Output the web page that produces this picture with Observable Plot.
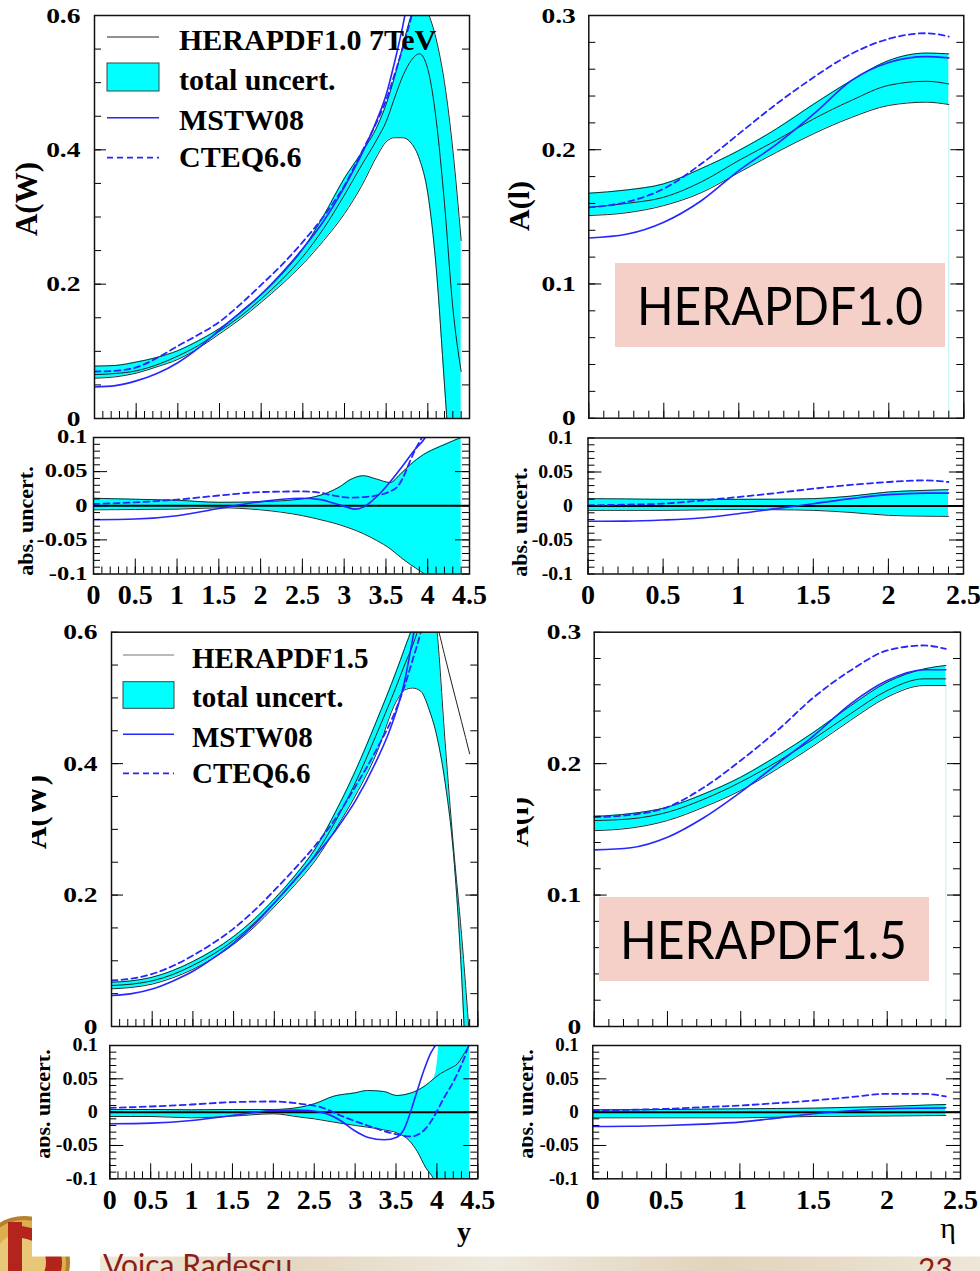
<!DOCTYPE html>
<html>
<head>
<meta charset="utf-8">
<script src="https://cdn.jsdelivr.net/npm/d3@7"></script>
<script src="https://cdn.jsdelivr.net/npm/@observablehq/plot@0.6"></script>
<style>
  html, body { margin: 0; padding: 0; background: #fff; }
  #page { position: relative; width: 980px; height: 1271px; overflow: hidden; background: #fff; }
  #page svg { position: absolute; }
</style>
</head>
<body>
<div id="page"></div>
<script>
// ---------- W asymmetry A(W) vs boson rapidity y : HERAPDF1.0 ----------
const w10_y    = [0, 0.25, 0.5, 0.75, 1, 1.25, 1.5, 1.75, 2, 2.25, 2.5, 2.75, 3, 3.2, 3.4, 3.5, 3.6, 3.7, 3.8, 3.9, 4.0, 4.1, 4.2, 4.3, 4.4];
const w10_hi   = [0.078, 0.079, 0.084, 0.091, 0.101, 0.116, 0.134, 0.157, 0.184, 0.215, 0.252, 0.302, 0.358, 0.395, 0.437, 0.468, 0.508, 0.555, 0.600, 0.630, 0.605, 0.565, 0.500, 0.400, 0.265];
const w10_mid  = [0.0655, 0.067, 0.071, 0.080, 0.093, 0.109, 0.130, 0.152, 0.178, 0.207, 0.241, 0.283, 0.333, 0.376, 0.418, 0.442, 0.477, 0.510, 0.533, 0.543, 0.520, 0.445, 0.320, 0.165, 0.070];
const w10_lo   = [0.060, 0.062, 0.0675, 0.077, 0.088, 0.105, 0.126, 0.148, 0.173, 0.200, 0.230, 0.265, 0.305, 0.345, 0.393, 0.412, 0.418, 0.418, 0.410, 0.386, 0.335, 0.225, 0.050, -0.130, -0.330];
const w10_mstw_y = [0, 0.25, 0.5, 0.75, 1, 1.25, 1.5, 1.75, 2, 2.25, 2.5, 2.75, 3, 3.2, 3.4, 3.5, 3.6, 3.7, 3.8];
const w10_mstw   = [0.047, 0.049, 0.056, 0.067, 0.083, 0.105, 0.132, 0.158, 0.185, 0.217, 0.253, 0.294, 0.345, 0.392, 0.448, 0.482, 0.530, 0.585, 0.650];
const w10_cteq_y = [0, 0.25, 0.5, 0.75, 1, 1.25, 1.5, 1.75, 2, 2.25, 2.5, 2.75, 3, 3.2, 3.4, 3.5, 3.6, 3.7, 3.8, 3.9];
const w10_cteq   = [0.070, 0.071, 0.076, 0.090, 0.108, 0.125, 0.144, 0.170, 0.199, 0.229, 0.263, 0.301, 0.347, 0.395, 0.445, 0.474, 0.512, 0.552, 0.597, 0.645];

// differences to the HERAPDF1.0 central value
const dw10_y   = [0, 0.5, 1, 1.5, 2, 2.5, 2.8, 2.95, 3.07, 3.23, 3.39, 3.55, 3.67, 3.79, 3.95, 4.15, 4.3, 4.4];
const dw10_hi  = [0.011, 0.0095, 0.008, 0.005, 0.006, 0.010, 0.019, 0.028, 0.038, 0.044, 0.039, 0.034, 0.046, 0.060, 0.075, 0.087, 0.095, 0.100];
const dw10_lo  = [-0.006, -0.0055, -0.005, -0.003, -0.006, -0.0145, -0.023, -0.028, -0.033, -0.041, -0.051, -0.063, -0.075, -0.086, -0.099, -0.120, -0.135, -0.150];
const dw10_mstw_y = [0, 0.5, 1, 1.5, 2, 2.48, 2.72, 2.87, 3.03, 3.13, 3.23, 3.35, 3.47, 3.59, 3.71, 3.83, 3.97, 4.05];
const dw10_mstw   = [-0.0205, -0.0195, -0.0146, -0.004, 0.006, 0.011, 0.009, 0.004, -0.002, -0.005, -0.002, 0.009, 0.0235, 0.041, 0.060, 0.080, 0.100, 0.120];
const dw10_cteq_y = [0, 0.5, 1, 1.5, 2, 2.48, 2.72, 2.87, 3.07, 3.27, 3.43, 3.55, 3.63, 3.7, 3.77, 3.85, 3.93, 4.0];
const dw10_cteq   = [0.0025, 0.005, 0.009, 0.015, 0.020, 0.021, 0.019, 0.015, 0.012, 0.013, 0.016, 0.021, 0.027, 0.040, 0.060, 0.082, 0.100, 0.118];

// ---------- lepton asymmetry A(l) vs pseudorapidity eta : HERAPDF1.0 ----------
const eta       = [0, 0.25, 0.5, 0.75, 1, 1.25, 1.5, 1.75, 2, 2.25, 2.4];
const l10_hi    = [0.1676, 0.170, 0.1746, 0.186, 0.1994, 0.2155, 0.234, 0.2515, 0.2665, 0.272, 0.2714];
const l10_mid   = [0.157, 0.160, 0.1646, 0.176, 0.192, 0.207, 0.223, 0.2367, 0.248, 0.251, 0.249];
const l10_lo    = [0.151, 0.153, 0.1584, 0.168, 0.183, 0.198, 0.212, 0.224, 0.233, 0.2354, 0.2337];
const l10_mstw  = [0.1343, 0.137, 0.146, 0.162, 0.1845, 0.204, 0.2267, 0.2515, 0.265, 0.2694, 0.2684];
const l10_cteq  = [0.157, 0.161, 0.171, 0.1895, 0.2118, 0.234, 0.254, 0.2714, 0.2826, 0.2868, 0.2843];
const dl10_hi   = [0.0108, 0.0104, 0.0098, 0.0098, 0.0098, 0.0100, 0.0108, 0.0145, 0.0206, 0.0230, 0.0240];
const dl10_lo   = [-0.0064, -0.0064, -0.0064, -0.0057, -0.0050, -0.0055, -0.0064, -0.0095, -0.0137, -0.0150, -0.0152];
const dl10_mstw = [-0.0225, -0.0222, -0.0206, -0.0176, -0.0113, -0.0039, 0.0034, 0.0108, 0.0167, 0.0190, 0.0190];
const dl10_cteq = [0.0010, 0.0020, 0.0034, 0.0080, 0.0132, 0.0190, 0.0255, 0.0310, 0.0353, 0.0377, 0.0353];

// ---------- A(W) : HERAPDF1.5 ----------
const w15_y    = [0, 0.25, 0.5, 0.75, 1, 1.25, 1.5, 1.75, 2, 2.25, 2.5, 2.75, 3, 3.25, 3.5, 3.6, 3.7, 3.8, 3.9, 4.0, 4.1, 4.2, 4.3, 4.4];
const w15_hi   = [0.0674, 0.0695, 0.075, 0.085, 0.099, 0.116, 0.137, 0.163, 0.194, 0.229, 0.270, 0.326, 0.390, 0.463, 0.541, 0.575, 0.610, 0.660, 0.680, 0.600, 0.430, 0.275, 0.140, -0.020];
const w15_mid  = [0.0624, 0.0645, 0.0695, 0.079, 0.093, 0.110, 0.131, 0.157, 0.188, 0.222, 0.261, 0.312, 0.372, 0.443, 0.518, 0.550, 0.580, 0.615, 0.640, 0.610, 0.561, 0.512, 0.464, 0.415];
const w15_lo   = [0.0573, 0.0595, 0.0645, 0.074, 0.087, 0.104, 0.125, 0.151, 0.182, 0.215, 0.252, 0.300, 0.352, 0.414, 0.495, 0.512, 0.515, 0.510, 0.483, 0.440, 0.370, 0.265, 0.080, -0.200];
const w15_mstw_y = [0, 0.25, 0.5, 0.75, 1, 1.25, 1.5, 1.75, 2, 2.25, 2.5, 2.75, 3, 3.25, 3.4, 3.5, 3.6, 3.7, 3.8];
const w15_mstw   = [0.0472, 0.050, 0.057, 0.069, 0.084, 0.104, 0.127, 0.155, 0.188, 0.223, 0.259, 0.298, 0.344, 0.403, 0.445, 0.480, 0.525, 0.590, 0.660];
const w15_cteq_y = [0, 0.25, 0.5, 0.75, 1, 1.25, 1.5, 1.75, 2, 2.25, 2.5, 2.75, 3, 3.25, 3.5, 3.6, 3.7, 3.8, 3.9];
const w15_cteq   = [0.070, 0.073, 0.080, 0.092, 0.108, 0.127, 0.149, 0.176, 0.207, 0.240, 0.275, 0.316, 0.366, 0.420, 0.484, 0.518, 0.558, 0.600, 0.650];

const dw15_y   = [0, 0.5, 1, 1.5, 2, 2.33, 2.5, 2.74, 3.0, 3.15, 3.35, 3.51, 3.66, 3.76, 3.86, 3.96, 4.0, 4.03, 4.1, 4.4];
const dw15_hi  = [0.004, 0.004, 0.0035, 0.004, 0.004, 0.0075, 0.0125, 0.024, 0.029, 0.0325, 0.031, 0.025, 0.028, 0.0325, 0.040, 0.050, 0.070, 0.110, 0.200, 0.300];
const dw15_lo  = [-0.0065, -0.0065, -0.0085, -0.006, -0.0025, -0.0075, -0.010, -0.015, -0.020, -0.0225, -0.0265, -0.031, -0.0425, -0.059, -0.0825, -0.100, -0.110, -0.120, -0.140, -0.200];
const dw15_edge_y = [0, 0.5, 1, 1.5, 2, 2.33, 2.5, 2.74, 3.0, 3.15, 3.35, 3.51, 3.66, 3.76, 3.86, 3.96, 4.04, 4.15, 4.25, 4.37, 4.4];
const dw15_edge   = [0.004, 0.004, 0.0035, 0.004, 0.004, 0.0075, 0.0125, 0.024, 0.029, 0.0325, 0.031, 0.025, 0.028, 0.0325, 0.040, 0.050, 0.0575, 0.065, 0.0725, 0.095, 0.100];
const dw15_mstw_y = [0, 0.5, 1, 1.5, 2, 2.3, 2.58, 2.82, 2.99, 3.15, 3.36, 3.51, 3.59, 3.67, 3.76, 3.84, 3.92, 3.98, 4.03];
const dw15_mstw   = [-0.0175, -0.0165, -0.0125, -0.005, 0.0025, 0.003, 0, -0.0125, -0.0275, -0.0375, -0.0415, -0.0375, -0.0275, -0.0025, 0.0325, 0.0625, 0.0875, 0.100, 0.110];
const dw15_cteq_y = [0, 0.5, 1, 1.5, 2, 2.33, 2.58, 2.82, 3.15, 3.48, 3.68, 3.84, 3.96, 4.08, 4.21, 4.33, 4.39, 4.43];
const dw15_cteq   = [0.0065, 0.0085, 0.0115, 0.015, 0.016, 0.0125, 0.0075, -0.005, -0.020, -0.0325, -0.0365, -0.0275, -0.0075, 0.020, 0.0475, 0.080, 0.100, 0.110];

// ---------- A(l) : HERAPDF1.5 ----------
const l15_hi    = [0.1598, 0.162, 0.1669, 0.177, 0.1897, 0.206, 0.224, 0.244, 0.262, 0.272, 0.2747];
const l15_mid   = [0.1567, 0.158, 0.163, 0.173, 0.186, 0.2015, 0.219, 0.238, 0.2556, 0.2645, 0.2645];
const l15_lo    = [0.149, 0.151, 0.1567, 0.167, 0.1796, 0.196, 0.2138, 0.233, 0.2506, 0.2594, 0.2594];
const l15_mstw  = [0.1344, 0.136, 0.144, 0.159, 0.1783, 0.1998, 0.2214, 0.2455, 0.2632, 0.2714, 0.2714];
const l15_cteq  = [0.1593, 0.161, 0.1669, 0.182, 0.2024, 0.2252, 0.2506, 0.2709, 0.2861, 0.2899, 0.2873];
const dl15_hi   = [0.0035, 0.0037, 0.0040, 0.0045, 0.0050, 0.0055, 0.0060, 0.0072, 0.0085, 0.0105, 0.0115];
const dl15_lo   = [-0.0085, -0.0085, -0.0085, -0.0085, -0.0085, -0.0075, -0.0065, -0.0062, -0.0058, -0.0053, -0.0050];
const dl15_mstw = [-0.0215, -0.0212, -0.0200, -0.0180, -0.0150, -0.0090, -0.0025, 0.0020, 0.0050, 0.0060, 0.0065];
const dl15_cteq = [0.0025, 0.0035, 0.0050, 0.0075, 0.0100, 0.0135, 0.0175, 0.0225, 0.0275, 0.0275, 0.0235];

// ---------- tick labels and legend text ----------
const wTickLabels   = [0, 0.2, 0.4, 0.6];
const lTickLabels   = [0, 0.1, 0.2, 0.3];
const dTickLabels   = [-0.1, -0.05, 0, 0.05, 0.1];
const yTickLabels   = [0, 0.5, 1, 1.5, 2, 2.5, 3, 3.5, 4, 4.5];
const etaTickLabels = [0, 0.5, 1, 1.5, 2, 2.5];
const legend10 = ["HERAPDF1.0 7TeV", "total uncert.", "MSTW08", "CTEQ6.6"];
const legend15 = ["HERAPDF1.5", "total uncert.", "MSTW08", "CTEQ6.6"];

// ---------- styling ----------
const SERIF = "'Liberation Serif', 'Times New Roman', 'DejaVu Serif', serif";
const SANS = "Lato, 'Noto Sans', 'Open Sans', sans-serif";
const CYAN = "#00ffff";
const EDGE = "#1e2e2e";
const BLUE = "#2626ff";
const CURVE = "monotone-x";

const table = (xs, cols) => xs.map((x, i) => {
  const r = {x};
  for (const k in cols) r[k] = cols[k][i];
  return r;
});
const range = (a, b, s) => d3.range(Math.round((b - a) / s) + 1).map(i => +(a + i * s).toFixed(4));

const page = document.getElementById("page");

// ---------- page background: footer band, crest, axis titles ----------
const foot = d3.select(page).append("svg")
  .attr("width", 980).attr("height", 1271)
  .style("left", "0px").style("top", "0px");
const defs = foot.append("defs");
const grad = defs.append("linearGradient").attr("id", "band");
[["0%", "#efe7d8"], ["20%", "#e4d6c0"], ["45%", "#efe9de"], ["70%", "#e2d3bc"], ["100%", "#eee6d7"]]
  .forEach(([o, c]) => grad.append("stop").attr("offset", o).attr("stop-color", c));
foot.append("rect").attr("x", 100).attr("y", 1256).attr("width", 880).attr("height", 15).attr("fill", "url(#band)");
foot.append("circle").attr("cx", 24).attr("cy", 1262).attr("r", 44).attr("fill", "#dcae4e").attr("stroke", "#b8802c").attr("stroke-width", 4);
foot.append("circle").attr("cx", 24).attr("cy", 1262).attr("r", 30).attr("fill", "#e9c779");
foot.append("path").attr("d", "M8,1222 h14 v52 h-14 z").attr("fill", "#b2241c");
foot.append("path").attr("d", "M22,1226 q40,6 40,36 q0,30 -40,36 v-12 q24,-4 24,-24 q0,-20 -24,-24 z").attr("fill", "#b2241c");
foot.append("rect").attr("x", 32).attr("y", 1185).attr("width", 948).attr("height", 71.5).attr("fill", "#fff");
foot.append("text").attr("x", 103).attr("y", 1276).attr("font-family", SANS).attr("font-size", 30)
  .attr("fill", "#8e1d16").text("Voica Radescu");
foot.append("text").attr("x", 918).attr("y", 1280).attr("font-family", SANS).attr("font-size", 30)
  .attr("fill", "#8e1d16").text("23");
foot.append("text").attr("x", 464).attr("y", 1241).attr("text-anchor", "middle").attr("font-family", SERIF)
  .attr("font-weight", "bold").attr("font-size", 28).text("y");
foot.append("text").attr("x", 948).attr("y", 1238).attr("text-anchor", "middle").attr("font-family", SERIF)
  .attr("font-size", 30).text("η");

// ---------- one framed panel ----------
function panel(o) {
  const m = o.margin;
  const innerW = o.width - m.left - m.right;
  const innerH = o.height - m.top - m.bottom;
  const band = table(o.band.x, {lo: o.band.lo, hi: o.band.hi});
  const hiEdge = o.edge ? table(o.edge.x, {v: o.edge.v}) : band.map(d => ({x: d.x, v: d.hi}));
  const line = {x: "x", y: "v", curve: CURVE, clip: true};
  const marks = [
    Plot.areaY(band, {x: "x", y1: "lo", y2: "hi", fill: CYAN, curve: CURVE, clip: true})
  ];
  if (o.bandFoot) {
    marks.push(Plot.ruleX([band[band.length - 1]], {x: "x", y1: () => o.yDomain[0], y2: "lo", stroke: "#b4f5f5", strokeWidth: 1}));
  }
  marks.push(
    Plot.lineY(band, {x: "x", y: "lo", stroke: EDGE, strokeWidth: 1, curve: CURVE, clip: true}),
    Plot.lineY(hiEdge, {...line, stroke: EDGE, strokeWidth: 1})
  );
  if (o.mid) marks.push(Plot.lineY(table(o.band.x, {v: o.mid}), {...line, stroke: "#222", strokeWidth: 1}));
  if (o.ratio) marks.push(Plot.ruleY([0], {stroke: "#000", strokeWidth: 2}));
  marks.push(
    Plot.lineY(table(o.mstw.x, {v: o.mstw.v}), {...line, stroke: BLUE, strokeWidth: 1.6}),
    Plot.lineY(table(o.cteq.x, {v: o.cteq.v}), {...line, stroke: BLUE, strokeWidth: 1.8, strokeDasharray: "6,4"})
  );
  // inward ticks: bottom edge, left and right edges
  const tk = {stroke: "#000", strokeWidth: 1};
  marks.push(
    Plot.tickX(o.xMinor, {x: d => d, insetTop: innerH - 7, ...tk}),
    Plot.tickX(o.xMajor, {x: d => d, insetTop: innerH - 15, ...tk}),
    Plot.tickY(o.yMinor, {y: d => d, insetRight: innerW - 7, ...tk}),
    Plot.tickY(o.yMinor, {y: d => d, insetLeft: innerW - 7, ...tk}),
    Plot.tickY(o.yMajor, {y: d => d, insetRight: innerW - o.majorLen, ...tk}),
    Plot.tickY(o.yMajor, {y: d => d, insetLeft: innerW - o.majorLen, ...tk}),
    Plot.frame({stroke: "#111", strokeWidth: 1.5}),
    Plot.axisY({ticks: o.yLabels, tickSize: 0, tickPadding: o.yPad, tickFormat: d => String(d), label: null,
      fontSize: o.yFont, fontWeight: "bold", fontFamily: SERIF})
  );
  if (o.xLabels) {
    marks.push(Plot.axisX({ticks: o.xLabels, tickSize: 0, tickPadding: 10, tickFormat: d => String(d), label: null,
      fontSize: 28, fontWeight: "bold", fontFamily: SERIF}));
  }
  const svg = Plot.plot({
    width: o.width, height: o.height,
    marginTop: m.top, marginRight: m.right, marginBottom: m.bottom, marginLeft: m.left,
    x: {domain: o.xDomain, axis: null},
    y: {domain: o.yDomain, axis: null},
    style: {background: "transparent", color: "#000", fontFamily: SERIF},
    marks
  });
  Object.assign(svg.style, {position: "absolute", left: o.left + "px", top: o.top + "px", maxWidth: "none", overflow: "hidden"});
  // wide ROOT-style digits on the vertical axis
  d3.select(svg).selectAll('[aria-label="y-axis tick label"] text').attr("transform", function () {
    return (this.getAttribute("transform") || "") + ` scale(${o.yStretch},1)`;
  });
  // decorations are written in page coordinates
  const g = d3.select(svg).append("g")
    .attr("transform", `translate(${-o.left},${-o.top})`)
    .attr("text-anchor", "start");
  if (o.title) {
    g.append("text").attr("transform", `translate(${o.title.x},${o.title.y}) rotate(-90)`)
      .attr("text-anchor", "middle").attr("font-family", SERIF).attr("font-weight", "bold")
      .attr("font-size", o.title.size).text(o.title.text);
  }
  if (o.decorate) o.decorate(g);
  page.appendChild(svg);
  return svg;
}

function drawLegend(g, L) {
  const [xa, xb] = L.swatch;
  g.append("line").attr("x1", xa).attr("x2", xb).attr("y1", L.rows[0]).attr("y2", L.rows[0])
    .attr("stroke", L.centralColor).attr("stroke-width", 1);
  g.append("rect").attr("x", xa).attr("y", L.box[0]).attr("width", xb - xa).attr("height", L.box[1] - L.box[0])
    .attr("fill", CYAN).attr("stroke", "#2e4a4a").attr("stroke-width", 1);
  g.append("line").attr("x1", xa).attr("x2", xb).attr("y1", L.rows[2]).attr("y2", L.rows[2])
    .attr("stroke", BLUE).attr("stroke-width", 1.6);
  g.append("line").attr("x1", xa).attr("x2", xb).attr("y1", L.rows[3]).attr("y2", L.rows[3])
    .attr("stroke", BLUE).attr("stroke-width", 1.8).attr("stroke-dasharray", "6,4");
  L.labels.forEach((t, i) => g.append("text").attr("x", L.tx).attr("y", L.base[i])
    .attr("text-anchor", "start").attr("font-family", SERIF).attr("font-weight", "bold")
    .attr("font-size", L.size).text(t));
}

function tag(g, box, text, tx, ty, len) {
  g.append("rect").attr("x", box[0]).attr("y", box[1]).attr("width", box[2] - box[0]).attr("height", box[3] - box[1])
    .attr("fill", "#f4d0c8");
  g.append("text").attr("x", tx).attr("y", ty).attr("text-anchor", "start")
    .attr("font-family", SANS).attr("font-size", 52)
    .attr("textLength", len).attr("lengthAdjust", "spacingAndGlyphs").attr("fill", "#000").text(text);
}

const yMinorW = range(0, 0.6, 0.05), yMajorW = [0.2, 0.4];
const yMinorL = range(0, 0.3, 0.02), yMajorL = [0.1, 0.2];
const yMinorD = range(-0.1, 0.1, 0.01), yMajorD = [-0.05, 0, 0.05];
const xMinorY = range(0, 4.5, 0.1), xMajorY = range(0, 4.5, 0.5);
const xMinorE = range(0, 2.5, 0.1), xMajorE = range(0, 2.5, 0.5);

// top-left: A(W), HERAPDF1.0
panel({
  left: 0, top: 0, width: 480, height: 432,
  margin: {top: 15, right: 11, bottom: 14, left: 94},
  xDomain: [0, 4.5], yDomain: [0, 0.6],
  band: {x: w10_y, lo: w10_lo, hi: w10_hi}, mid: w10_mid,
  mstw: {x: w10_mstw_y, v: w10_mstw}, cteq: {x: w10_cteq_y, v: w10_cteq},
  xMinor: xMinorY, xMajor: xMajorY, yMinor: yMinorW, yMajor: yMajorW, majorLen: 12,
  yLabels: wTickLabels, yPad: 14, yFont: 22, yStretch: 1.25,
  title: {text: "A(W)", x: 37, y: 199, size: 31},
  decorate: g => drawLegend(g, {swatch: [107, 159], rows: [37, 0, 117.7, 157.7], box: [63, 91],
    centralColor: "#222", tx: 179, base: [50, 90, 130, 167], size: 30, labels: legend10})
});

// top-left lower: difference A(W)
panel({
  left: 0, top: 425, width: 492, height: 190,
  margin: {top: 12, right: 23, bottom: 41.5, left: 93},
  xDomain: [0, 4.5], yDomain: [-0.1, 0.1], ratio: true,
  band: {x: dw10_y, lo: dw10_lo, hi: dw10_hi},
  mstw: {x: dw10_mstw_y, v: dw10_mstw}, cteq: {x: dw10_cteq_y, v: dw10_cteq},
  xMinor: xMinorY, xMajor: xMajorY, yMinor: yMinorD, yMajor: yMajorD, majorLen: 14,
  yLabels: dTickLabels, yPad: 6, yFont: 18, yStretch: 1.36, xLabels: yTickLabels,
  title: {text: "abs. uncert.", x: 33, y: 521, size: 22}
});

// top-right: A(l), HERAPDF1.0
panel({
  left: 490, top: 0, width: 490, height: 432,
  margin: {top: 15, right: 16.7, bottom: 14.3, left: 98.3},
  xDomain: [0, 2.5], yDomain: [0, 0.3], bandFoot: true,
  band: {x: eta, lo: l10_lo, hi: l10_hi}, mid: l10_mid,
  mstw: {x: eta, v: l10_mstw}, cteq: {x: eta, v: l10_cteq},
  xMinor: xMinorE, xMajor: xMajorE, yMinor: yMinorL, yMajor: yMajorL, majorLen: 13,
  yLabels: lTickLabels, yPad: 13, yFont: 22, yStretch: 1.25,
  title: {text: "A(l)", x: 529, y: 206, size: 30},
  decorate: g => tag(g, [615, 263, 945, 347], "HERAPDF1.0", 637, 325, 286)
});

// top-right lower: difference A(l)
panel({
  left: 490, top: 425, width: 490, height: 190,
  margin: {top: 12.5, right: 17, bottom: 41.5, left: 97.5},
  xDomain: [0, 2.5], yDomain: [-0.1, 0.1], ratio: true,
  band: {x: eta, lo: dl10_lo, hi: dl10_hi},
  mstw: {x: eta, v: dl10_mstw}, cteq: {x: eta, v: dl10_cteq},
  xMinor: xMinorE, xMajor: xMajorE, yMinor: yMinorD, yMajor: yMajorD, majorLen: 14,
  yLabels: dTickLabels, yPad: 15, yFont: 18, yStretch: 1.1, xLabels: etaTickLabels,
  title: {text: "abs. uncert.", x: 527, y: 522, size: 22}
});

// bottom-left: A(W), HERAPDF1.5
panel({
  left: 32, top: 620, width: 458, height: 420,
  margin: {top: 11.7, right: 12.7, bottom: 14, left: 79},
  xDomain: [0, 4.5], yDomain: [0, 0.6],
  band: {x: w15_y, lo: w15_lo, hi: w15_hi}, mid: w15_mid,
  mstw: {x: w15_mstw_y, v: w15_mstw}, cteq: {x: w15_cteq_y, v: w15_cteq},
  xMinor: xMinorY, xMajor: xMajorY, yMinor: yMinorW, yMajor: yMajorW, majorLen: 12,
  yLabels: wTickLabels, yPad: 14, yFont: 22, yStretch: 1.25,
  title: {text: "A(W)", x: 46, y: 812, size: 31},
  decorate: g => drawLegend(g, {swatch: [123, 174], rows: [655, 0, 734.3, 773.3], box: [681.7, 708.3],
    centralColor: "#777", tx: 192, base: [668, 707, 746.7, 783.3], size: 29, labels: legend15})
});

// bottom-left lower: difference A(W)
panel({
  left: 40, top: 1038, width: 458, height: 187,
  margin: {top: 7, right: 20.7, bottom: 46.7, left: 69.3},
  xDomain: [0, 4.5], yDomain: [-0.1, 0.1], ratio: true,
  band: {x: dw15_y, lo: dw15_lo, hi: dw15_hi}, edge: {x: dw15_edge_y, v: dw15_edge},
  mstw: {x: dw15_mstw_y, v: dw15_mstw}, cteq: {x: dw15_cteq_y, v: dw15_cteq},
  xMinor: xMinorY, xMajor: xMajorY, yMinor: yMinorD, yMajor: yMajorD, majorLen: 14,
  yLabels: dTickLabels, yPad: 12, yFont: 18, yStretch: 1.12, xLabels: yTickLabels,
  title: {text: "abs. uncert.", x: 50, y: 1104, size: 22}
});

// bottom-right: A(l), HERAPDF1.5
panel({
  left: 517, top: 620, width: 463, height: 420,
  margin: {top: 11.7, right: 20, bottom: 14, left: 76.7},
  xDomain: [0, 2.5], yDomain: [0, 0.3], bandFoot: true,
  band: {x: eta, lo: l15_lo, hi: l15_hi}, mid: l15_mid,
  mstw: {x: eta, v: l15_mstw}, cteq: {x: eta, v: l15_cteq},
  xMinor: xMinorE, xMajor: xMajorE, yMinor: yMinorL, yMajor: yMajorL, majorLen: 13,
  yLabels: lTickLabels, yPad: 13, yFont: 22, yStretch: 1.25,
  title: {text: "A(l)", x: 528, y: 822, size: 30},
  decorate: g => tag(g, [599, 897, 929, 981], "HERAPDF1.5", 620, 959, 287)
});

// bottom-right lower: difference A(l)
panel({
  left: 522, top: 1038, width: 458, height: 187,
  margin: {top: 7, right: 20, bottom: 46.7, left: 70.3},
  xDomain: [0, 2.5], yDomain: [-0.1, 0.1], ratio: true,
  band: {x: eta, lo: dl15_lo, hi: dl15_hi},
  mstw: {x: eta, v: dl15_mstw}, cteq: {x: eta, v: dl15_cteq},
  xMinor: xMinorE, xMajor: xMajorE, yMinor: yMinorD, yMajor: yMajorD, majorLen: 14,
  yLabels: dTickLabels, yPad: 14, yFont: 18, yStretch: 1.05, xLabels: etaTickLabels,
  title: {text: "abs. uncert.", x: 533, y: 1104, size: 22}
});
</script>
</body>
</html>
